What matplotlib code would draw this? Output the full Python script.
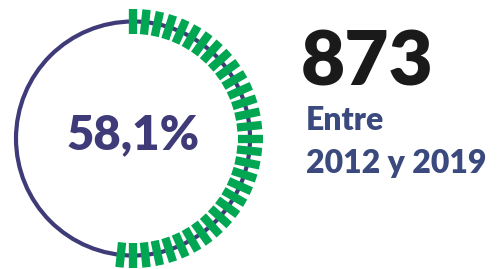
import numpy as np
import matplotlib
matplotlib.use("Agg")
import matplotlib.pyplot as plt
from matplotlib.patches import Circle

# Data
pct_label = "58,1%"
total = "873"
period_lines = ["Entre", "2012 y 2019"]
n_ticks = 32          # green marks drawn on the ring
tick_step_deg = 6.0

NAVY = "#3f3b78"
GREEN = "#00a651"
TEXT_BLUE = "#3b4a7e"

W, H = 497, 269
fig = plt.figure(figsize=(W / 100, H / 100), dpi=100)
ax = fig.add_axes([0, 0, 1, 1])
ax.set_xlim(0, W)
ax.set_ylim(H, 0)
ax.set_aspect("equal")
ax.axis("off")

cx, cy, r = 133, 138.5, 117

# Ring
ax.add_patch(Circle((cx, cy), r, fill=False, ec=NAVY, lw=3.0, zorder=1))

# Green tick marks, clockwise from 12 o'clock
half = 12.5
for i in range(n_ticks):
    a = np.deg2rad(i * tick_step_deg)
    dx, dy = np.sin(a), -np.cos(a)
    xs = [cx + (r - half) * dx, cx + (r + half) * dx]
    ys = [cy + (r - half) * dy, cy + (r + half) * dy]
    ax.plot(xs, ys, color=GREEN, lw=6.0, solid_capstyle="butt", zorder=2)

# Texts
ax.text(cx, 149, pct_label, ha="center", va="baseline", fontsize=34,
        fontweight="heavy", family="Lato", color=NAVY)
ax.text(301, 85, total, ha="left", va="baseline", fontsize=55,
        fontweight="heavy", family="Lato", color="#1a1a1a")
ax.text(306, 130, period_lines[0], ha="left", va="baseline", fontsize=23,
        fontweight="heavy", family="Lato", color=TEXT_BLUE)
ax.text(306, 173, period_lines[1], ha="left", va="baseline", fontsize=23,
        fontweight="heavy", family="Lato", color=TEXT_BLUE)

fig.savefig("out.png", dpi=100)
